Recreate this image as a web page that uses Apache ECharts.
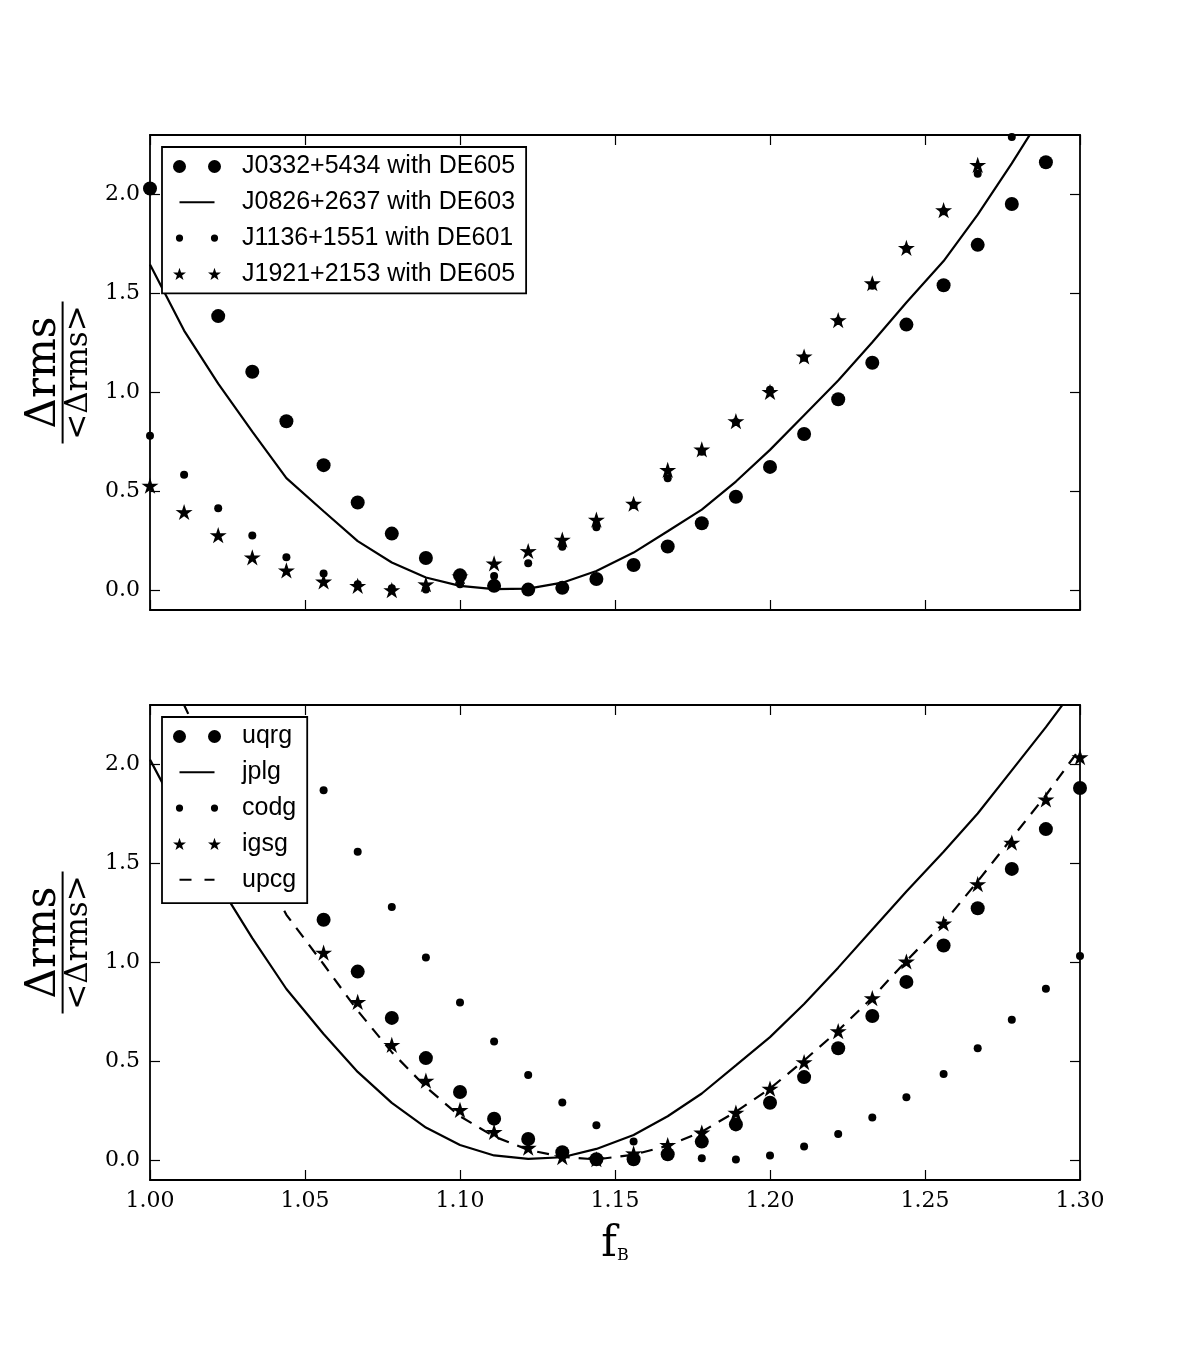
<!DOCTYPE html>
<html>
<head>
<meta charset="utf-8">
<script src="https://cdn.jsdelivr.net/npm/echarts@6/dist/echarts.min.js"></script>
<style>
  html, body { margin: 0; padding: 0; background: #fff; }
  #chart { width: 1200px; height: 1350px; }
</style>
</head>
<body>
<div id="chart"></div>
<script>
// f_B sample positions (shared by every series)
var fB = [1.000, 1.011, 1.022, 1.033, 1.044, 1.056, 1.067, 1.078, 1.089, 1.100,
          1.111, 1.122, 1.133, 1.144, 1.156, 1.167, 1.178, 1.189, 1.200, 1.211,
          1.222, 1.233, 1.244, 1.256, 1.267, 1.278, 1.289, 1.300];

// top panel: pulsars / ephemerides
var topNames = ['J0332+5434 with DE605', 'J0826+2637 with DE603', 'J1136+1551 with DE601', 'J1921+2153 with DE605'];
var j0332 = [2.03, 1.70, 1.385, 1.104, 0.854, 0.632, 0.443, 0.286, 0.163, 0.075,
             0.022, 0.003, 0.012, 0.057, 0.127, 0.221, 0.338, 0.472, 0.623, 0.789,
             0.965, 1.149, 1.342, 1.541, 1.745, 1.951, 2.162, 2.38];
var j0826 = [1.646, 1.312, 1.044, 0.801, 0.566, 0.399, 0.248, 0.14, 0.064, 0.022,
             0.005, 0.008, 0.038, 0.097, 0.19, 0.298, 0.407, 0.549, 0.709, 0.884,
             1.06, 1.253, 1.454, 1.663, 1.898, 2.157, 2.43, 2.70];
var j1136 = [0.78, 0.583, 0.414, 0.276, 0.166, 0.085, 0.03, 0.01, 0.004, 0.03,
             0.072, 0.136, 0.22, 0.318, 0.43, 0.566, 0.70, 0.85, 1.013, 1.175,
             1.36, 1.538, 1.725, 1.915, 2.104, 2.29, null, null];
var j1921 = [0.528, 0.395, 0.278, 0.166, 0.10, 0.044, 0.022, 0.0, 0.03, 0.07,
             0.136, 0.198, 0.256, 0.357, 0.437, 0.608, 0.712, 0.854, 1.002, 1.181,
             1.365, 1.551, 1.73, 1.92, 2.149, 2.37, null, null];

// bottom panel: ionosphere maps
var botNames = ['uqrg', 'jplg', 'codg', 'igsg', 'upcg'];
var uqrg = [2.95, 2.55, 2.18, 1.83, 1.51, 1.215, 0.953, 0.719, 0.516, 0.345,
            0.21, 0.107, 0.04, 0.005, 0.005, 0.03, 0.094, 0.181, 0.29, 0.42,
            0.566, 0.729, 0.901, 1.085, 1.273, 1.472, 1.673, 1.881];
var jplg = [2.024, 1.70, 1.40, 1.122, 0.865, 0.638, 0.446, 0.29, 0.165, 0.077,
            0.024, 0.007, 0.015, 0.057, 0.127, 0.222, 0.337, 0.479, 0.622, 0.789,
            0.973, 1.166, 1.358, 1.559, 1.752, 1.97, 2.188, 2.42];
var codg = [null, null, null, 2.58, 2.21, 1.869, 1.559, 1.28, 1.024, 0.797,
            0.60, 0.431, 0.291, 0.177, 0.094, 0.04, 0.01, 0.003, 0.024, 0.069,
            0.132, 0.216, 0.318, 0.436, 0.566, 0.71, 0.866, 1.032];
var igsg = [2.74, 2.35, 1.98, 1.66, 1.37, 1.049, 0.80, 0.583, 0.402, 0.254,
            0.143, 0.063, 0.016, 0.005, 0.035, 0.077, 0.14, 0.24, 0.362, 0.496,
            0.652, 0.819, 1.004, 1.196, 1.395, 1.605, 1.823, 2.037];
var upcg = [2.70, 2.30, 1.93, 1.57, 1.24, 0.99, 0.755, 0.546, 0.37, 0.222,
            0.12, 0.052, 0.017, 0.004, 0.028, 0.073, 0.144, 0.245, 0.362, 0.504,
            0.655, 0.822, 1.007, 1.199, 1.409, 1.627, 1.844, 2.08];

var xTicks = [1.00, 1.05, 1.10, 1.15, 1.20, 1.25, 1.30];
var yTicks = [0.0, 0.5, 1.0, 1.5, 2.0];

function pairs(arr) {
    var out = [];
    for (var i = 0; i < fB.length; i++) {
        if (arr[i] !== null) out.push([fB[i], arr[i]]);
    }
    return out;
}

var starPath = 'path://M50,0 L61.17,34.63 L97.55,34.55 L68.07,55.87 L79.39,90.45 L50,69 L20.61,90.45 L31.93,55.87 L2.45,34.55 L38.83,34.63 Z';

// legend icons: two markers like matplotlib (numpoints=2); M0,0 M64,13 fixes the box
var box = 'path://M0,0 M64,13 ';
var iconBig = box + 'M0,6.5 A6.5,6.5 0 1,0 13,6.5 A6.5,6.5 0 1,0 0,6.5 Z M35,6.5 A6.5,6.5 0 1,0 48,6.5 A6.5,6.5 0 1,0 35,6.5 Z';
var iconSmall = box + 'M2.9,6.5 A3.6,3.6 0 1,0 10.1,6.5 A3.6,3.6 0 1,0 2.9,6.5 Z M37.9,6.5 A3.6,3.6 0 1,0 45.1,6.5 A3.6,3.6 0 1,0 37.9,6.5 Z';
var iconLine = box + 'M6.5,5.5 H41.5 V7.5 H6.5 Z';
var iconDash = box + 'M6.5,5.5 H18.5 V7.5 H6.5 Z M31.5,5.5 H41.5 V7.5 H31.5 Z';
var iconStar = box + 'M6.5,0.4 L8.09,5.02 L12.97,5.1 L9.07,8.03 L10.5,12.7 L6.5,9.9 L2.5,12.7 L3.93,8.03 L0.03,5.1 L4.91,5.02 Z ' +
    'M41.5,0.4 L43.09,5.02 L47.97,5.1 L44.07,8.03 L45.5,12.7 L41.5,9.9 L37.5,12.7 L38.93,8.03 L35.03,5.1 L39.91,5.02 Z';

var serif = 'DejaVu Serif';
var tickStyle = { show: true, inside: true, length: 10, lineStyle: { color: '#000', width: 1.2 }, customValues: null };
var frame = { show: true, onZero: false, lineStyle: { color: '#000', width: 1.8 } };

function xAxisFor(grid, pos, labels) {
    return {
        type: 'value', gridIndex: grid, position: pos, min: 1.0, max: 1.3,
        axisLine: frame,
        axisTick: Object.assign({}, tickStyle, { customValues: xTicks }),
        axisLabel: {
            show: labels, customValues: xTicks, margin: 10,
            color: '#000', fontFamily: serif, fontSize: 22,
            formatter: function (v) { return v.toFixed(2); }
        },
        splitLine: { show: false }
    };
}
function yAxisFor(grid, pos, labels) {
    return {
        type: 'value', gridIndex: grid, position: pos, min: -0.1, max: 2.3,
        axisLine: frame,
        axisTick: Object.assign({}, tickStyle, { customValues: yTicks }),
        axisLabel: {
            show: labels, customValues: yTicks, margin: 10,
            color: '#000', fontFamily: serif, fontSize: 22,
            formatter: function (v) { return v.toFixed(1); }
        },
        splitLine: { show: false }
    };
}

var yTitle = {
    name: '{n|Δrms}\n{l| }\n{d|<Δrms>}',
    nameLocation: 'middle',
    nameRotate: 90,
    nameGap: 48,
    nameTextStyle: {
        align: 'center',
        rich: {
            n: { fontFamily: serif, fontSize: 42, lineHeight: 32, color: '#000', align: 'center' },
            l: { width: 142, height: 2, lineHeight: 6, backgroundColor: '#000', align: 'center' },
            d: { fontFamily: serif, fontSize: 31, lineHeight: 26, color: '#000', align: 'center' }
        }
    }
};

var yTop = Object.assign(yAxisFor(0, 'left', true), yTitle);
var yBot = Object.assign(yAxisFor(1, 'left', true), yTitle);
var xBot = Object.assign(xAxisFor(1, 'bottom', true), {
    name: '{f|f}{b|B}',
    nameLocation: 'middle',
    nameGap: 44,
    nameTextStyle: {
        rich: {
            f: { fontFamily: serif, fontSize: 42, color: '#000' },
            b: { fontFamily: serif, fontSize: 16, color: '#000', padding: [22, 0, 0, 0] }
        }
    }
});

function legendFor(names, icons, top, pad) {
    return {
        orient: 'vertical', left: 162, top: top,
        padding: pad,
        itemGap: 10.8, itemWidth: 64, itemHeight: 13,
        backgroundColor: '#fff', borderColor: '#000', borderWidth: 1.8, borderRadius: 0,
        textStyle: { fontFamily: 'Liberation Sans', fontSize: 25, color: '#000' },
        data: names.map(function (n, i) {
            return { name: n, icon: icons[i], itemStyle: { color: '#000', borderWidth: 0, opacity: 1 } };
        }),
        z: 10
    };
}

function scatter(name, arr, xi, yi, symbol, size) {
    return {
        name: name, type: 'scatter', xAxisIndex: xi, yAxisIndex: yi,
        symbol: symbol, symbolSize: size, symbolKeepAspect: true,
        itemStyle: { color: '#000', opacity: 1 },
        data: pairs(arr)
    };
}
function curve(name, arr, xi, yi, dash) {
    return {
        name: name, type: 'line', xAxisIndex: xi, yAxisIndex: yi,
        symbol: 'none', smooth: false,
        itemStyle: { color: '#000' },
        lineStyle: { color: '#000', width: 2.2, type: dash ? [12, 9] : 'solid' },
        data: pairs(arr)
    };
}

var chart = echarts.init(document.getElementById('chart'));

var option = {
    animation: false,
    backgroundColor: '#fff',
    grid: [
        { left: 150, top: 135, width: 930, height: 475 },
        { left: 150, top: 705, width: 930, height: 475 }
    ],
    legend: [
        legendFor(topNames, [iconBig, iconLine, iconSmall, iconStar], 147, [7, 11, 7, 11]),
        legendFor(botNames, [iconBig, iconLine, iconSmall, iconStar, iconDash], 717, [7, 11, 11, 11])
    ],
    xAxis: [
        xAxisFor(0, 'bottom', false),
        xAxisFor(0, 'top', false),
        xBot,
        xAxisFor(1, 'top', false)
    ],
    yAxis: [
        yTop,
        yAxisFor(0, 'right', false),
        yBot,
        yAxisFor(1, 'right', false)
    ],
    series: [
        scatter(topNames[0], j0332, 0, 0, 'circle', 14),
        curve(topNames[1], j0826, 0, 0, false),
        scatter(topNames[2], j1136, 0, 0, 'circle', 8),
        scatter(topNames[3], j1921, 0, 0, starPath, 17),

        scatter(botNames[0], uqrg, 2, 2, 'circle', 14),
        curve(botNames[1], jplg, 2, 2, false),
        scatter(botNames[2], codg, 2, 2, 'circle', 8),
        scatter(botNames[3], igsg, 2, 2, starPath, 17),
        curve(botNames[4], upcg, 2, 2, true)
    ]
};

chart.setOption(option);
</script>
</body>
</html>
